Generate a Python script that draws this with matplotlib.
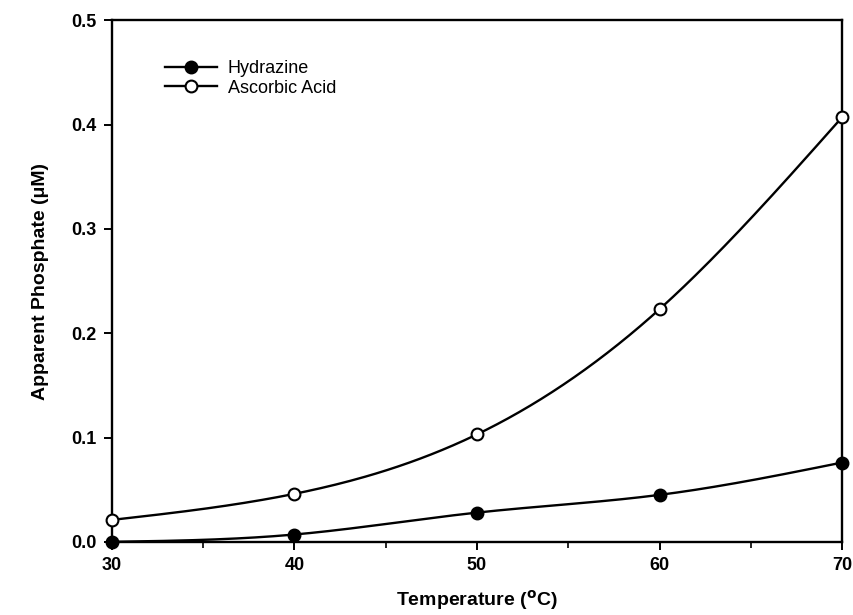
import numpy as np
import matplotlib
matplotlib.use('Agg')
import matplotlib.pyplot as plt

plt.rcParams['font.family'] = ['Liberation Sans', 'DejaVu Sans']

temp = [30, 40, 50, 60, 70]
hydrazine = [0.0, 0.007, 0.028, 0.045, 0.076]
ascorbic = [0.021, 0.046, 0.103, 0.223, 0.407]


def smooth(x, y, n=200):
    # natural cubic spline, only for drawing the curve between the points
    x = np.asarray(x, float)
    y = np.asarray(y, float)
    k = len(x)
    h = np.diff(x)
    A = np.zeros((k, k))
    b = np.zeros(k)
    A[0, 0] = A[-1, -1] = 1
    for i in range(1, k - 1):
        A[i, i - 1] = h[i - 1]
        A[i, i] = 2 * (h[i - 1] + h[i])
        A[i, i + 1] = h[i]
        b[i] = 6 * ((y[i + 1] - y[i]) / h[i] - (y[i] - y[i - 1]) / h[i - 1])
    M = np.linalg.solve(A, b)
    xs = np.linspace(x[0], x[-1], n)
    idx = np.clip(np.searchsorted(x, xs) - 1, 0, k - 2)
    x0, x1 = x[idx], x[idx + 1]
    hh = x1 - x0
    ys = (M[idx] * (x1 - xs) ** 3 / (6 * hh) + M[idx + 1] * (xs - x0) ** 3 / (6 * hh)
          + (y[idx] / hh - M[idx] * hh / 6) * (x1 - xs)
          + (y[idx + 1] / hh - M[idx + 1] * hh / 6) * (xs - x0))
    return xs, ys


fig = plt.figure(figsize=(8.54, 6.15), dpi=100)
ax = fig.add_axes([0.131, 0.119, 0.855, 0.848])

for yv, face, name in [(hydrazine, 'black', 'Hydrazine'), (ascorbic, 'white', 'Ascorbic Acid')]:
    xs, ys = smooth(temp, yv)
    ax.plot(xs, ys, color='black', lw=1.7, zorder=2)
    ax.plot(temp, yv, 'o', ms=8.5, mfc=face, mec='black', mew=1.5, zorder=3, clip_on=False)
    ax.plot([], [], '-o', color='black', lw=1.7, ms=8.5, mfc=face, mec='black', mew=1.5, label=name)

ax.set_xlim(30, 70)
ax.set_ylim(0, 0.5)
ax.set_xticks([30, 40, 50, 60, 70])
ax.set_xticks([35, 45, 55, 65], minor=True)
ax.set_yticks([0.0, 0.1, 0.2, 0.3, 0.4, 0.5])
ax.set_yticklabels(['0.0', '0.1', '0.2', '0.3', '0.4', '0.5'])
ax.tick_params(which='major', direction='out', length=6, width=1.4, labelsize=13, pad=5)
ax.tick_params(which='minor', direction='out', length=4, width=1.2)
for lab in ax.get_xticklabels() + ax.get_yticklabels():
    lab.set_fontweight('bold')
for s in ax.spines.values():
    s.set_linewidth(1.7)

ax.set_xlabel('Temperature ($\\mathbf{^o}$C)', fontsize=14, fontweight='bold', labelpad=10)
ax.set_ylabel('Apparent Phosphate (\u03bcM)', fontsize=14, fontweight='bold', labelpad=16)

ax.legend(loc='upper left', bbox_to_anchor=(0.05, 0.955), frameon=False, fontsize=13,
          handlelength=2.9, handletextpad=0.6, labelspacing=0.15)

fig.savefig('out.png', dpi=100)
